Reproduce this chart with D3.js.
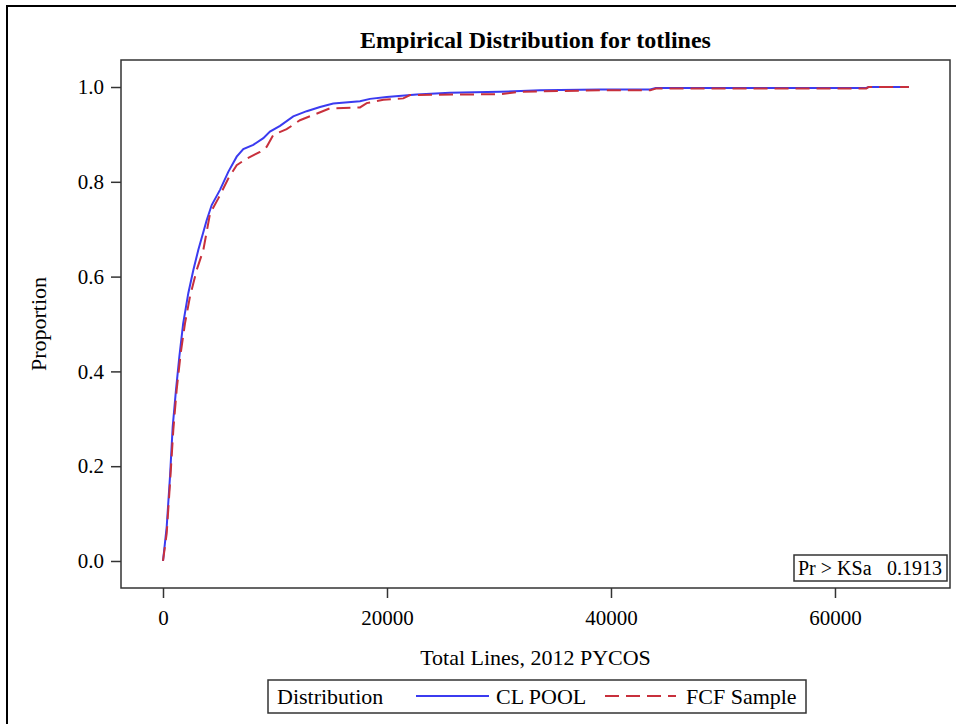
<!DOCTYPE html>
<html>
<head>
<meta charset="utf-8">
<script src="https://cdn.jsdelivr.net/npm/d3@7/dist/d3.min.js"></script>
<style>
body { margin: 0; background: #fff; }
text { font-family: "Liberation Serif", "Times New Roman", serif; fill: #000; }
</style>
</head>
<body>
<svg id="chart"></svg>
<script>
// values
var poolX = [0, 330, 625, 865, 1160, 1460, 1800, 2260, 2710, 3150, 3900, 4350, 5090, 5830, 6580, 7170, 8060, 8960, 9550, 10450, 11630, 12830, 14020, 15200, 17590, 18480, 19970, 22650, 25620, 30090, 33660, 39020, 43500, 44000, 62800, 63000, 66600];
var poolY = [0, .072, .178, .283, .361, .431, .501, .565, .614, .656, .719, .751, .783, .821, .853, .869, .878, .892, .906, .918, .938, .949, .958, .965, .970, .975, .979, .984, .988, .990, .993, .995, .995, .998, .998, 1.0, 1.0];
var sampleX = [0, 330, 625, 920, 1220, 1580, 1960, 2410, 3010, 3600, 4200, 4940, 5830, 6580, 7470, 8660, 9260, 9850, 11040, 12230, 13420, 14910, 17590, 18190, 19680, 21460, 22050, 30090, 31880, 39020, 43500, 44000, 62800, 63000, 66600];
var sampleY = [0, .058, .164, .276, .361, .438, .501, .558, .614, .656, .733, .765, .807, .835, .849, .863, .874, .899, .911, .930, .941, .955, .957, .966, .973, .976, .983, .985, .990, .993, .993, .997, .997, 1.0, 1.0];
var xTicks = [0, 20000, 40000, 60000];
var yTicks = [0, 0.2, 0.4, 0.6, 0.8, 1.0];
var seriesNames = ['CL POOL', 'FCF Sample'];
var ksLabel = 'Pr > KSa';
var ksValue = '0.1913';

var svgWidth = 956;
var svgHeight = 724;
var plotLeft = 121, plotRight = 950, plotTop = 60, plotBottom = 588;
var blue = '#3b3bf0';
var red = '#c8303c';

var svg = d3.select('#chart')
	.attr('width', svgWidth)
	.attr('height', svgHeight);

var xScale = d3.scaleLinear()
	.domain([-3750, 70270])
	.range([plotLeft, plotRight]);
var yScale = d3.scaleLinear()
	.domain([-0.057, 1.057])
	.range([plotBottom, plotTop]);

// outer frame of the graph
svg.append('rect')
	.attr('x', 7)
	.attr('y', 6)
	.attr('width', 970)
	.attr('height', 740)
	.attr('fill', 'none')
	.attr('stroke', '#000')
	.attr('stroke-width', 2);

svg.append('text')
	.attr('x', (plotLeft + plotRight) / 2)
	.attr('y', 48)
	.attr('text-anchor', 'middle')
	.attr('font-size', 24)
	.attr('font-weight', 'bold')
	.text('Empirical Distribution for totlines');

var xAxis = d3.axisBottom(xScale)
	.tickValues(xTicks)
	.tickFormat(d3.format('d'))
	.tickSize(10)
	.tickSizeOuter(0)
	.tickPadding(12);
var yAxis = d3.axisLeft(yScale)
	.tickValues(yTicks)
	.tickFormat(d3.format('.1f'))
	.tickSize(10)
	.tickSizeOuter(0)
	.tickPadding(7);

var gx = svg.append('g')
	.attr('transform', `translate(0,${plotBottom})`)
	.call(xAxis);
var gy = svg.append('g')
	.attr('transform', `translate(${plotLeft},0)`)
	.call(yAxis);
[gx, gy].forEach(function(g) {
	g.select('.domain').remove();
	g.selectAll('line').attr('stroke', '#333').attr('stroke-width', 1.5);
	g.selectAll('text')
		.attr('font-family', '"Liberation Serif", "Times New Roman", serif')
		.attr('font-size', 21)
		.attr('fill', '#000');
});

svg.append('defs').append('clipPath')
	.attr('id', 'plotClip')
	.append('rect')
	.attr('x', plotLeft)
	.attr('y', plotTop)
	.attr('width', plotRight - plotLeft)
	.attr('height', plotBottom - plotTop);

var line = d3.line()
	.x(d => xScale(d[0]))
	.y(d => yScale(d[1]));

var plot = svg.append('g').attr('clip-path', 'url(#plotClip)');
plot.append('path')
	.datum(d3.zip(poolX, poolY))
	.attr('d', line)
	.attr('fill', 'none')
	.attr('stroke', blue)
	.attr('stroke-width', 2);
plot.append('path')
	.datum(d3.zip(sampleX, sampleY))
	.attr('d', line)
	.attr('fill', 'none')
	.attr('stroke', red)
	.attr('stroke-width', 2)
	.attr('stroke-dasharray', '14,7');

// plot frame
svg.append('rect')
	.attr('x', plotLeft)
	.attr('y', plotTop)
	.attr('width', plotRight - plotLeft)
	.attr('height', plotBottom - plotTop)
	.attr('fill', 'none')
	.attr('stroke', '#333')
	.attr('stroke-width', 1.5);

// KS inset
svg.append('rect')
	.attr('x', 794)
	.attr('y', 555)
	.attr('width', 153)
	.attr('height', 26)
	.attr('fill', '#fff')
	.attr('stroke', '#333')
	.attr('stroke-width', 1.5);
svg.append('text')
	.attr('x', 798)
	.attr('y', 575)
	.attr('font-size', 20)
	.text(ksLabel);
svg.append('text')
	.attr('x', 942)
	.attr('y', 575)
	.attr('text-anchor', 'end')
	.attr('font-size', 20)
	.text(ksValue);

svg.append('text')
	.attr('x', (plotLeft + plotRight) / 2)
	.attr('y', 665)
	.attr('text-anchor', 'middle')
	.attr('font-size', 22)
	.text('Total Lines, 2012 PYCOS');

svg.append('text')
	.attr('transform', 'rotate(-90)')
	.attr('x', -(plotTop + plotBottom) / 2)
	.attr('y', 46)
	.attr('text-anchor', 'middle')
	.attr('font-size', 22)
	.text('Proportion');

// legend
var legend = svg.append('g');
legend.append('rect')
	.attr('x', 268)
	.attr('y', 680)
	.attr('width', 538)
	.attr('height', 33)
	.attr('fill', '#fff')
	.attr('stroke', '#333')
	.attr('stroke-width', 1.5);
legend.append('text')
	.attr('x', 277)
	.attr('y', 704)
	.attr('font-size', 22)
	.text('Distribution');
legend.append('line')
	.attr('x1', 416).attr('x2', 489)
	.attr('y1', 696).attr('y2', 696)
	.attr('stroke', blue)
	.attr('stroke-width', 2);
legend.append('text')
	.attr('x', 496)
	.attr('y', 704)
	.attr('font-size', 22)
	.text(seriesNames[0]);
legend.append('line')
	.attr('x1', 605).attr('x2', 676)
	.attr('y1', 696).attr('y2', 696)
	.attr('stroke', red)
	.attr('stroke-width', 2)
	.attr('stroke-dasharray', '14,7');
legend.append('text')
	.attr('x', 686)
	.attr('y', 704)
	.attr('font-size', 22)
	.text(seriesNames[1]);
</script>
</body>
</html>
